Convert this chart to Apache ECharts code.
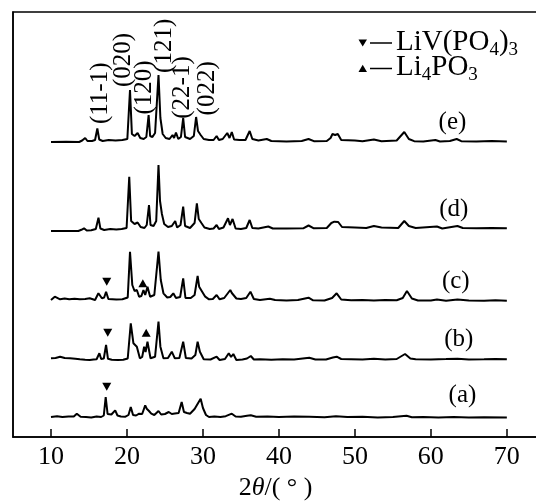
<!DOCTYPE html>
<html>
<head>
<meta charset="utf-8">
<script src="https://cdn.jsdelivr.net/npm/echarts@6/dist/echarts.min.js"></script>
<style>
  html, body { margin: 0; padding: 0; background: #fff; }
  #chart { width: 536px; height: 501px; }
</style>
</head>
<body>
<div id="chart"></div>
<script>
  // 2θ ticks
  const xTicks = [10, 20, 30, 40, 50, 60, 70]
  const sampleNames = ['(a)', '(b)', '(c)', '(d)', '(e)']
  // vertical shift of each pattern (a.u.)
  const offsets = [20, 77, 137, 206, 295]

  // [2θ, intensity above own baseline]
  const patternA = [[10,0],[10.8,0.8],[11.5,0],[12.3,0.6],[13.0,0.5],[13.4,3.3],[13.9,0.3],[14.6,0],[15.3,-0.5],[16.0,0.6],[16.6,0],[16.95,1.5],[17.2,20],[17.45,3],[17.7,1],[17.95,2.5],[18.2,0.5],[18.45,6.7],[18.75,1.5],[19.2,0.5],[19.8,0.3],[20.2,2],[20.5,10],[20.8,2],[21.2,1.5],[21.6,3.3],[22.0,3],[22.4,11.7],[22.6,8.3],[22.9,6],[23.2,3.3],[23.6,2],[24.15,6],[24.5,2.5],[25.0,3],[25.5,5],[25.9,3],[26.3,3.5],[26.8,4],[27.2,15],[27.5,5],[27.9,4],[28.3,3.3],[28.9,8],[29.7,18.3],[30.0,9],[30.4,2],[30.8,0],[31.5,0.5],[32.3,0],[33.0,0.8],[33.8,3.3],[34.3,0.5],[35.0,0.3],[35.8,1.2],[36.3,1.7],[37,0.2],[38.5,0.5],[40,0],[42,0.4],[44,0.3],[46,-0.3],[47.5,0.8],[49,0],[51,0.2],[53,-0.4],[55,0],[56.8,1.2],[57.5,-0.3],[59,0],[61,-0.5],[63,0],[65,-0.6],[67,-0.3],[70,-0.5]]
  const patternB = [[10,1.7],[10.6,2],[11.2,3.3],[11.8,2],[12.5,1.7],[13.2,1.2],[13.8,0.7],[14.5,0.3],[15.1,0],[15.6,0.5],[16.0,0.8],[16.37,6.7],[16.6,1],[16.95,1.5],[17.25,15],[17.5,1.2],[18,0.3],[18.8,0],[19.5,0.3],[20.1,1.5],[20.5,36.7],[20.85,16.7],[21.3,13.3],[21.7,1.7],[22.0,3],[22.26,13.3],[22.45,8],[22.7,18.3],[23.1,1.7],[23.7,3.3],[24.15,38.3],[24.4,13.3],[24.8,1.7],[25.4,2],[25.9,8.3],[26.3,1.7],[26.9,2],[27.4,18.3],[27.75,2],[28.5,1.5],[29.0,5],[29.3,18.3],[29.6,8.3],[30.1,0.7],[31.0,0.5],[31.8,3.3],[32.2,0],[32.9,1],[33.4,6.7],[33.7,3],[34.0,6],[34.4,0],[35.2,0.5],[35.8,1.5],[36.3,4],[36.7,0.5],[37.5,0.8],[39,0.3],[40.5,0.8],[42,0.5],[44,2.3],[44.8,0.5],[46.2,0.5],[47.1,2.5],[47.6,3.3],[48.2,1],[49.5,0.8],[51,0.4],[52.5,1.2],[54,0.5],[55.5,1],[56.6,6],[57.3,1.5],[58,0.8],[60,0.6],[62,0.9],[63.5,1.2],[65,0.5],[67,0.8],[68.5,1.1],[70,0.7]]
  const patternC = [[10,0],[10.5,3.3],[11.2,0.7],[11.8,1.5],[12.4,0.7],[13.1,1.3],[13.8,0.7],[14.5,1],[15.1,1.7],[15.8,0],[16.24,6.7],[16.7,1.7],[17.0,2.5],[17.25,8.3],[17.55,1],[17.8,0.7],[18.6,0.5],[19.4,0.7],[20.1,2.5],[20.4,48.3],[20.7,15],[21.0,9],[21.3,10],[21.6,3.3],[21.9,4],[22.17,10],[22.4,5],[22.7,13.3],[23.05,3.3],[23.6,5],[24.15,48.3],[24.45,20],[24.8,6.7],[25.3,2.5],[25.7,3],[26.1,6.7],[26.45,2],[27.0,3],[27.4,21.7],[27.7,2],[28.4,2],[28.9,5],[29.3,24],[29.5,13.3],[30.3,3.3],[30.8,0.7],[31.3,1],[31.8,5],[32.2,0.7],[32.8,2],[33.6,10],[33.8,7],[34.0,9],[34.4,1.5],[35.0,1],[35.7,2],[36.25,8.3],[36.7,1],[37.5,0],[38.8,1.3],[39.5,0],[41,-0.5],[42.5,0],[43.9,2.3],[44.5,-0.3],[46,-0.5],[47.0,2],[47.6,6.7],[48.2,0.5],[49.5,-0.3],[51,0],[52.5,-0.5],[54,0],[55.5,-0.3],[56.3,2],[56.85,9],[57.5,1.5],[58.3,-0.5],[60,-0.5],[60.8,0.5],[62,-0.8],[63.5,0.5],[65,-0.6],[67,-0.8],[68.5,-0.3],[70,-0.8]]
  const patternD = [[10,0],[12,0],[13.6,0],[14.0,1.2],[14.35,2.7],[14.7,0.5],[15.3,0.8],[15.9,2],[16.25,13.3],[16.5,2.5],[17.0,1],[17.8,2],[18.6,1.5],[19.3,2],[19.95,3],[20.3,54.3],[20.55,10],[21.0,7],[21.4,8.5],[21.8,4],[22.3,3],[22.6,6],[22.9,26],[23.1,6],[23.5,5],[23.85,10],[24.15,66],[24.35,30],[24.6,17],[24.9,7],[25.4,4],[25.9,5],[26.35,10],[26.6,3.5],[27.05,6],[27.4,24.3],[27.65,5],[28.3,3],[28.9,8],[29.2,27.7],[29.45,12],[29.8,8],[30.2,3.5],[30.9,2],[31.4,2.5],[31.8,6],[32.1,2],[32.7,3.5],[33.3,12.7],[33.55,6],[33.9,12],[34.3,2.5],[35.0,2],[35.7,3],[36.15,11],[36.5,3],[37.3,2.5],[38.6,4.5],[39.2,2.5],[41,2.5],[43.2,2.7],[43.9,5.5],[44.6,2.7],[46.3,3],[46.9,8],[47.3,9.3],[47.8,9],[48.3,4],[50,3.5],[51.5,3],[52.5,5],[53.5,3.5],[55.7,3],[56.5,10],[57.1,5],[58,3],[60.8,4.5],[61.5,2.5],[63.5,5],[64.2,3],[66,2.7],[68,3],[70,2.7]]
  const patternE = [[10,0],[12,0.3],[13.7,0],[14.1,1.5],[14.5,4],[14.8,1],[15.4,1],[15.8,2],[16.1,13.5],[16.35,2.5],[16.8,1],[17.6,2],[18.5,1.5],[19.4,2],[20.05,3],[20.4,52],[20.65,8],[21.0,6],[21.4,9],[21.75,4],[22.2,3],[22.55,5],[22.85,27],[23.05,6],[23.35,5],[23.7,9],[24.15,67],[24.4,24],[24.7,8],[25.1,4],[25.6,3],[26.0,7],[26.2,4],[26.45,9.5],[26.75,3],[27.1,5],[27.4,24],[27.65,5],[28.3,3],[28.8,6],[29.1,25],[29.35,11],[29.7,7],[30.1,3],[30.8,2],[31.4,2],[31.8,6],[32.1,2],[32.6,3],[33.2,9],[33.5,4],[33.8,10],[34.1,2.5],[34.8,2],[35.6,2],[36.15,11],[36.5,3],[37.3,1.5],[38.4,3],[39,1],[41,0.5],[43,1],[43.9,3],[44.6,0.8],[46.3,1],[46.8,4],[47.05,8],[47.4,7],[47.75,8],[48.2,2],[50,1.5],[51,0.8],[52.5,2.5],[53.5,0.8],[55.5,1.5],[56.5,10],[57.1,3],[57.8,0.8],[59,0.5],[60.6,2],[61.2,0.5],[62.5,1],[63.4,3],[64,0.8],[66,0.5],[68,1],[70,0.5]]
  const patterns = [patternA, patternB, patternC, patternD, patternE]

  // where the (a)...(e) names sit: [2θ, height above baseline]
  const namePos = [[64.16, 22], [63.67, 21], [63.28, 18.3], [63.01, 22], [62.84, 20]]
  // ▼ LiV(PO4)3 and ▲ Li4PO3 markers: [2θ, height above baseline]
  const livMarks = [[[17.34, 30.3]], [[17.47, 27.3]], [[17.34, 18.3]], [], []]
  const lipMarks = [[], [[22.53, 27.3]], [[22.09, 16.7]], [], []]
  // Miller indices over pattern (e)
  const hklNames = ['(11-1)', '(020)', '(120)', '(121)', '(22-1)', '(022)']
  const hklPos = [[16.46, 48.7], [19.53, 82], [22.27, 54.5], [24.9, 96.2], [27.34, 54.5], [30.64, 53.7]]

  const FONT = 'Liberation Serif'
  const chart = echarts.init(document.getElementById('chart'))

  function textMark(coord, text, rotate) {
    return {
      coord: coord,
      symbol: 'circle',
      symbolSize: 1,
      itemStyle: { color: 'rgba(0,0,0,0)' },
      label: {
        show: true, position: 'inside', formatter: text, rotate: rotate || 0,
        color: '#000', fontFamily: FONT, fontSize: 25
      }
    }
  }

  const series = patterns.map((pat, i) => {
    const off = offsets[i]
    const marks = [textMark([namePos[i][0], namePos[i][1] + off], sampleNames[i])]
    livMarks[i].forEach(m => marks.push({
      coord: [m[0], m[1] + off], symbol: 'triangle', symbolRotate: 180, symbolSize: [9, 8],
      itemStyle: { color: '#000' }, label: { show: false }
    }))
    lipMarks[i].forEach(m => marks.push({
      coord: [m[0], m[1] + off], symbol: 'triangle', symbolSize: [9, 8],
      itemStyle: { color: '#000' }, label: { show: false }
    }))
    if (i === 4) {
      hklNames.forEach((n, k) => marks.push(textMark([hklPos[k][0], hklPos[k][1] + off], n, 90)))
    }
    return {
      type: 'line',
      name: sampleNames[i],
      data: pat.map(p => [p[0], p[1] + off]),
      showSymbol: false,
      symbol: 'none',
      silent: true,
      lineStyle: { color: '#000', width: 2 },
      markPoint: { silent: true, animation: false, data: marks }
    }
  })

  const sub = { fontFamily: FONT, fontSize: 19, lineHeight: 19, verticalAlign: 'bottom', fill: '#000' }
  const main = { fontFamily: FONT, fontSize: 29, lineHeight: 36, verticalAlign: 'middle', fill: '#000' }

  const option = {
    animation: false,
    backgroundColor: '#fff',
    grid: {
      left: 13, right: -2, top: 12, bottom: 64, outerBoundsMode: 'none',
      show: true, borderColor: '#000', borderWidth: 1.5
    },
    xAxis: {
      type: 'value', min: 5, max: 74.1,
      name: '2{i|θ}/( ° )', nameLocation: 'middle', nameGap: 35,
      nameTextStyle: {
        color: '#000', fontFamily: FONT, fontSize: 26,
        rich: { i: { fontStyle: 'italic', fontFamily: FONT, fontSize: 26, color: '#000' } }
      },
      axisLine: { show: true, lineStyle: { color: '#000', width: 1.5 } },
      axisTick: { show: true, inside: true, length: 8, customValues: xTicks, lineStyle: { color: '#000', width: 1.5 } },
      axisLabel: { customValues: xTicks, color: '#000', fontFamily: FONT, fontSize: 26, margin: 7 },
      splitLine: { show: false }
    },
    yAxis: {
      type: 'value', min: 0, max: 425,
      axisLine: { show: true, lineStyle: { color: '#000', width: 1.5 } },
      axisTick: { show: false }, axisLabel: { show: false }, splitLine: { show: false }
    },
    graphic: [
      { type: 'polygon', shape: { points: [[358.5, 39.5], [367, 39.5], [362.7, 46.5]] }, style: { fill: '#000' } },
      { type: 'line', shape: { x1: 370, y1: 43, x2: 392, y2: 43 }, style: { stroke: '#000', lineWidth: 1.5 } },
      { type: 'text', x: 396, y: 42, style: { text: '{m|LiV(PO}{s|4}{m|)}{s|3}', rich: { m: main, s: sub }, verticalAlign: 'middle' } },
      { type: 'polygon', shape: { points: [[362.7, 64.8], [367, 72], [358.5, 72]] }, style: { fill: '#000' } },
      { type: 'line', shape: { x1: 370, y1: 68.5, x2: 392, y2: 68.5 }, style: { stroke: '#000', lineWidth: 1.5 } },
      { type: 'text', x: 396, y: 67, style: { text: '{m|Li}{s|4}{m|PO}{s|3}', rich: { m: main, s: sub }, verticalAlign: 'middle' } }
    ],
    series: series
  }
  chart.setOption(option)
</script>
</body>
</html>
